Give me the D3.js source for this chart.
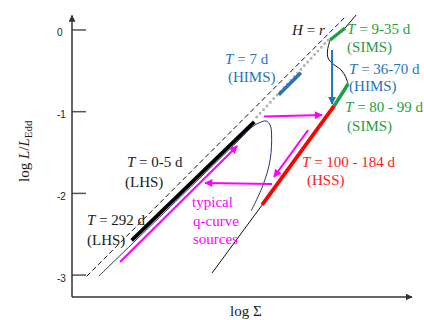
<!DOCTYPE html>
<html><head><meta charset="utf-8">
<script src="https://cdn.jsdelivr.net/npm/d3@7"></script>
<style>
html,body{margin:0;padding:0;background:#fff;}
svg{display:block;}
text{font-family:"Liberation Serif","Times New Roman",serif;}
</style></head>
<body>
<svg id="chart" width="424" height="320"></svg>
<script>
// ---- data (log Σ , log L/L_Edd) ----
const yTicks = [0, -1, -2, -3];
const yTickLabels = ["0", "-1", "-2", "-3"];
const dashedHr = [[0.18, -3.02], [3.33, 0.14]];
const lhsThick = [[0.73, -2.58], [2.23, -1.13]];
const grayDots = [[2.26, -1.07], [3.16, -0.10]];
const hims7 = [[2.53, -0.80], [2.80, -0.53]];
const qTop = [[3.476, 0.177], [3.341, 0.018], [3.158, -0.129]];
const qS = [[3.158, -0.129], [3.127, -0.251], [3.133, -0.349], [3.195, -0.422], [3.293, -0.496], [3.348, -0.581], [3.378, -0.667]];
const qLower = [[3.378, -0.667], [3.207, -0.936], [2.326, -2.148], [1.714, -2.980]];
const simsUpper = [[3.158, -0.129], [3.341, 0.018]];
const simsLower = [[3.378, -0.667], [3.207, -0.936]];
const hss = [[3.207, -0.936], [2.326, -2.148]];
const navyCurve = [[0.330, -3.017], [1.873, -1.519], [2.056, -1.340], [2.203, -1.193], [2.301, -1.138], [2.375, -1.120], [2.424, -1.169], [2.442, -1.291], [2.424, -1.597], [2.338, -1.903], [2.191, -2.222]];
const magentaArrows = [
  [[2.350, -1.065], [3.060, -1.047]],
  [[2.889, -1.230], [2.472, -1.805]],
  [[2.448, -1.891], [1.628, -1.879]],
  [[0.588, -2.846], [2.020, -1.426]]
];
const blueArrow = [[3.182, -0.251], [3.182, -0.912]];
// labels: [x, y, parts, colorKey]
const labels = [
  [2.693, -0.067, [["H", 1], [" = ", 0], ["r", 1]], "dark"],
  [3.366, -0.055, [["T", 1], [" = 9-35 d", 0]], "green"],
  [3.366, -0.275, [["(SIMS)", 0]], "green"],
  [3.390, -0.545, [["T", 1], [" = 36-70 d", 0]], "blue"],
  [3.390, -0.753, [["(HIMS)", 0]], "blue"],
  [3.341, -1.010, [["T", 1], [" = 80 - 99 d", 0]], "green"],
  [3.366, -1.242, [["(SIMS)", 0]], "green"],
  [1.873, -0.422, [["T", 1], [" = 7 d", 0]], "blue"],
  [1.909, -0.643, [["(HIMS)", 0]], "blue"],
  [2.815, -1.683, [["T", 1], [" = 100 - 184 d", 0]], "red"],
  [2.876, -1.909, [["(HSS)", 0]], "red"],
  [0.673, -1.683, [["T", 1], [" = 0-5 d", 0]], "dark"],
  [0.649, -1.928, [["(LHS)", 0]], "dark"],
  [0.184, -2.393, [["T", 1], [" = 292 d", 0]], "dark"],
  [0.184, -2.638, [["(LHS)", 0]], "dark"],
  [1.469, -2.173, [["typical", 0]], "magenta"],
  [1.481, -2.405, [["q-curve", 0]], "magenta"],
  [1.481, -2.626, [["sources", 0]], "magenta"]
];
const colors = {dark: "#1a1a1a", green: "#1f9e45", blue: "#2474bd", red: "#ff1a1a", magenta: "#ff00ff"};

// ---- scales ----
const svg = d3.select("#chart");
const x = d3.scaleLinear().domain([0, 4.16]).range([72, 412]);
const y = d3.scaleLinear().domain([-3.274, 0.177]).range([297, 15]);
const line = d3.line().x(d => x(d[0])).y(d => y(d[1]));
const curve = d3.line().x(d => x(d[0])).y(d => y(d[1])).curve(d3.curveCatmullRom.alpha(0.5));

// markers
const defs = svg.append("defs");
function marker(id, color, w, h) {
  defs.append("marker").attr("id", id).attr("viewBox", "0 0 10 10")
    .attr("refX", 9).attr("refY", 5).attr("markerUnits", "userSpaceOnUse")
    .attr("markerWidth", w).attr("markerHeight", h).attr("orient", "auto")
    .append("path").attr("d", "M0,0L10,5L0,10Z").attr("fill", color);
}
marker("mAxis", "#333", 7, 7);
marker("mMag", "#ff00ff", 9, 8);
marker("mBlue", "#2474bd", 8, 8);

// axes
const xAxis = d3.axisBottom(x).tickValues([]).tickSizeOuter(0);
const yAxis = d3.axisRight(y).tickValues(yTicks).tickSize(14).tickFormat("");
const gy = svg.append("g").attr("transform", `translate(${x(0)},0)`).call(yAxis);
gy.select(".domain").remove();
gy.selectAll(".tick line").attr("stroke", "#555").attr("stroke-width", 1.5);
svg.append("line").attr("x1", x(0)).attr("x2", x(0)).attr("y1", y(-3.274)).attr("y2", y(0.177) + 0.5)
  .attr("stroke", "#333").attr("stroke-width", 1.5).attr("marker-end", "url(#mAxis)");
svg.append("line").attr("x1", x(0)).attr("x2", x(4.16)).attr("y1", y(-3.274)).attr("y2", y(-3.274))
  .attr("stroke", "#333").attr("stroke-width", 1.5).attr("marker-end", "url(#mAxis)");
svg.append("g").selectAll("text").data(yTicks).join("text")
  .attr("x", 57).attr("y", d => y(d) + 7)
  .style("font-family", "'Liberation Sans', Arial, sans-serif").style("font-size", "10px")
  .attr("fill", "#222").text((d, i) => yTickLabels[i]);

// axis titles
const xt = svg.append("text").attr("x", 230).attr("y", 316).style("font-size", "15px").attr("fill", "#1a1a1a");
xt.append("tspan").text("log Σ");
const yt = svg.append("text").attr("transform", "translate(29,182) rotate(-90)").style("font-size", "15px").attr("fill", "#1a1a1a");
yt.append("tspan").text("log ");
yt.append("tspan").style("font-style", "italic").text("L");
yt.append("tspan").text("/");
yt.append("tspan").style("font-style", "italic").text("L");
yt.append("tspan").attr("dy", 3).style("font-size", "11px").text("Edd");

// lines
svg.append("path").attr("d", line(dashedHr)).attr("fill", "none").attr("stroke", "#111").attr("stroke-width", 1).attr("stroke-dasharray", "5,3");
svg.append("path").attr("d", curve(navyCurve)).attr("fill", "none").attr("stroke", "#24385a").attr("stroke-width", 1);
svg.append("path").attr("d", line(qTop)).attr("fill", "none").attr("stroke", "#111").attr("stroke-width", 1);
svg.append("path").attr("d", curve(qS)).attr("fill", "none").attr("stroke", "#111").attr("stroke-width", 1);
svg.append("path").attr("d", line(qLower)).attr("fill", "none").attr("stroke", "#111").attr("stroke-width", 1);
svg.append("path").attr("d", line(grayDots)).attr("fill", "none").attr("stroke", "#b3b3b3").attr("stroke-width", 3)
  .attr("stroke-linecap", "round").attr("stroke-dasharray", "0,5");
svg.append("path").attr("d", line(lhsThick)).attr("fill", "none").attr("stroke", "#000").attr("stroke-width", 3.8);
svg.append("path").attr("d", line(hims7)).attr("fill", "none").attr("stroke", "#2474bd").attr("stroke-width", 3.5);
svg.append("path").attr("d", line(hss)).attr("fill", "none").attr("stroke", "#ff0000").attr("stroke-width", 3.8);
svg.append("path").attr("d", line(simsUpper)).attr("fill", "none").attr("stroke", "#1f9e45").attr("stroke-width", 3.5);
svg.append("path").attr("d", line(simsLower)).attr("fill", "none").attr("stroke", "#1f9e45").attr("stroke-width", 3.5);
svg.append("g").selectAll("path").data(magentaArrows).join("path")
  .attr("d", d => line(d)).attr("fill", "none").attr("stroke", "#ff00ff").attr("stroke-width", 2).attr("marker-end", "url(#mMag)");
svg.append("path").attr("d", line(blueArrow)).attr("fill", "none").attr("stroke", "#2474bd").attr("stroke-width", 2).attr("marker-end", "url(#mBlue)");

// labels
labels.forEach(([lx, ly, parts, c]) => {
  const t = svg.append("text").attr("x", x(lx)).attr("y", y(ly)).style("font-size", "15px").attr("fill", colors[c]);
  parts.forEach(([s, it]) => t.append("tspan").style("font-style", it ? "italic" : "normal").style("white-space", "pre").text(s));
  t.attr("xml:space", "preserve");
});
</script>
</body></html>
